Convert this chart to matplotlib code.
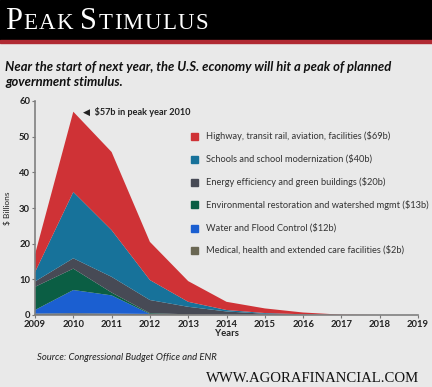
import numpy as np
import matplotlib
matplotlib.use('Agg')
import matplotlib.pyplot as plt
from matplotlib.patches import Rectangle

plt.rcParams['text.parse_math'] = False

# data ($ billions per year, each layer)
years = np.arange(2009, 2020)
medical = [0.4, 0.5, 0.4, 0.3, 0.2, 0.1, 0.05, 0, 0, 0, 0]
water = [1.0, 6.5, 5.1, 0, 0, 0, 0, 0, 0, 0, 0]
environment = [6.5, 6.0, 0.8, 0.2, 0, 0, 0, 0, 0, 0, 0]
energy = [1.5, 2.9, 4.4, 3.7, 2.1, 0.9, 0.3, 0.1, 0, 0, 0]
schools = [2.6, 18.6, 13.1, 5.6, 1.4, 0.4, 0.2, 0.1, 0, 0, 0]
highway = [5.0, 22.5, 21.9, 10.7, 5.8, 2.3, 1.3, 0.5, 0.1, 0, 0]

labels = [
    'Highway, transit rail, aviation, facilities ($69b)',
    'Schools and school modernization ($40b)',
    'Energy efficiency and green buildings ($20b)',
    'Environmental restoration and watershed mgmt ($13b)',
    'Water and Flood Control ($12b)',
    'Medical, health and extended care facilities ($2b)',
]
colors = ['#cf3236', '#17729a', '#474a55', '#0b5e44', '#1b5fd1', '#6a6753']

W, H = 432, 387
BG = '#e9e9e9'

fig = plt.figure(figsize=(W / 100, H / 100), dpi=100, facecolor=BG)

def fx(x):
    return x / W

def fy(y):
    return 1 - y / H

# header band
fig.patches.append(Rectangle((0, fy(40)), 1, 40 / H, transform=fig.transFigure,
                             color='black', zorder=0))
fig.patches.append(Rectangle((0, fy(43)), 1, 3 / H, transform=fig.transFigure,
                             color='#b02a33', zorder=0))

# small caps title, letter by letter for the wide tracking
renderer = fig.canvas.get_renderer()
x = fx(5)
for word in ['PEAK', 'STIMULUS']:
    for i, ch in enumerate(word):
        size = 22 if i == 0 else 16.5
        t = fig.text(x, fy(29), ch, color='white', fontsize=size,
                     family='Liberation Serif', va='baseline', ha='left')
        x += t.get_window_extent(renderer).width / W + fx(1.3)
    x += fx(6)

fig.text(fx(5), fy(67), 'Near the start of next year, the U.S. economy will hit a peak of planned',
         fontsize=9.4, family='Lato', weight='bold', style='italic', color='#111111', va='center')
fig.text(fx(5), fy(82), 'government stimulus.',
         fontsize=9.4, family='Lato', weight='bold', style='italic', color='#111111', va='center')

ax = fig.add_axes([fx(35), fy(315), fx(418) - fx(35), (315 - 101) / H])
ax.set_facecolor(BG)

stack = [medical, water, environment, energy, schools, highway]
ax.stackplot(years, *stack, colors=colors[::-1], linewidth=0)

ax.set_xlim(2009, 2019)
ax.set_ylim(0, 60)
ax.set_xticks(years)
ax.set_yticks(range(0, 61, 10))
ax.tick_params(labelsize=6.8, length=2, width=0.8, color='#777777', labelcolor='#222222', pad=1.5)
for lab in ax.get_xticklabels() + ax.get_yticklabels():
    lab.set_family('Lato')
    lab.set_weight('bold')
for s in ['top', 'right']:
    ax.spines[s].set_visible(False)
for s in ['left', 'bottom']:
    ax.spines[s].set_color('#808080')
    ax.spines[s].set_linewidth(1.2)

ax.set_xlabel('Years', fontsize=6.8, family='Lato', weight='bold', color='#222222', labelpad=0)
ax.set_ylabel('$ Billions', fontsize=6, family='Lato', color='#222222', labelpad=6)

ax.annotate('\u25c0  $57b in peak year 2010', xy=(2010, 57), xytext=(7, 0),
            textcoords='offset points', fontsize=6.6, family=['Lato', 'DejaVu Sans'],
            weight='bold', color='#222222', va='center')

# legend drawn by hand to match the spacing
row_y = [136, 159, 182, 205, 228, 250]
for lab, col, yy in zip(labels, colors, row_y):
    fig.patches.append(Rectangle((fx(191), fy(yy + 3.5)), fx(7), 7 / H,
                                 transform=fig.transFigure, color=col))
    fig.text(fx(206), fy(yy), lab, fontsize=6.7, family='Lato', color='#333333', va='center')

fig.text(fx(37), fy(358), 'Source: Congressional Budget Office and ENR', fontsize=6.8,
         family='Lato', style='italic', color='#222222', va='center')
fig.text(fx(419), fy(378), 'WWW.AGORAFINANCIAL.COM', fontsize=10.6, family='Liberation Serif',
         color='#111111', va='center', ha='right')

fig.savefig('out.png', dpi=100, facecolor=BG)
